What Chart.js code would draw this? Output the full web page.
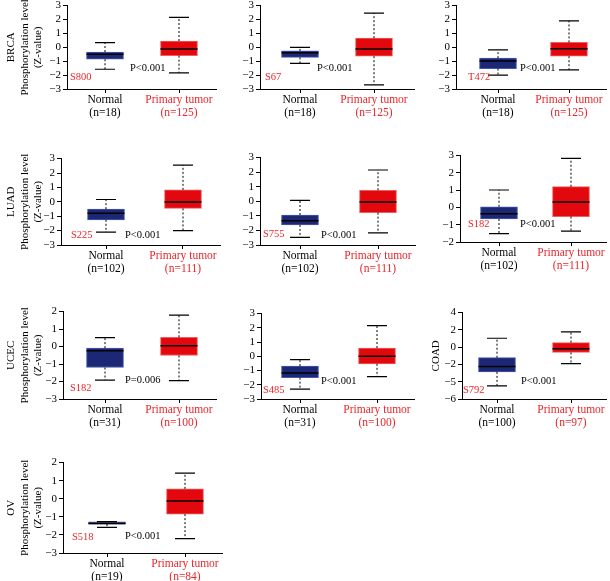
<!DOCTYPE html>
<html>
<head>
<meta charset="utf-8">
<script src="https://cdn.jsdelivr.net/npm/chart.js@4.4.1/dist/chart.umd.min.js"></script>
<style>
  html, body { margin: 0; padding: 0; background: #fff; }
  #wrap { position: relative; width: 610px; height: 581px; overflow: hidden; }
  #wrap canvas { position: absolute; }
</style>
</head>
<body>
<div id="wrap"></div>
<script>
// data
const groups = ["Normal", "Primary tumor"];
const cancers = ["BRCA", "BRCA", "BRCA", "LUAD", "LUAD", "LUAD", "UCEC", "UCEC", "COAD", "OV"];
const sites = ["S800", "S67", "T472", "S225", "S755", "S182", "S182", "S485", "S792", "S518"];
const pLabels = ["P<0.001", "P<0.001", "P<0.001", "P<0.001", "P<0.001", "P<0.001", "P=0.006", "P<0.001", "P<0.001", "P<0.001"];
const normalN = [18, 18, 18, 102, 102, 102, 31, 31, 100, 19];
const tumorN = [125, 125, 125, 111, 111, 111, 100, 100, 97, 84];

const normalMin = [-1.58, -1.16, -2.0, -2.1, -2.47, -1.51, -1.92, -2.31, -4.47, -1.58];
const normalQ1 = [-0.86, -0.73, -1.53, -1.25, -1.62, -0.67, -1.2, -1.5, -2.86, -1.4];
const normalMed = [-0.5, -0.4, -0.99, -0.79, -1.33, -0.36, -0.24, -1.18, -2.25, -1.37];
const normalQ3 = [-0.34, -0.26, -0.78, -0.51, -0.94, 0.04, -0.09, -0.69, -1.22, -1.27];
const normalMax = [0.34, 0.0, -0.19, 0.16, 0.07, 1.01, 0.51, -0.23, 1.03, -1.27];

const tumorMin = [-1.84, -2.7, -1.62, -2.0, -2.17, -1.37, -1.95, -1.43, -1.91, -2.2];
const tumorQ1 = [-0.6, -0.64, -0.64, -0.46, -0.78, -0.53, -0.51, -0.53, -0.61, -0.85];
const tumorMed = [-0.12, -0.12, -0.1, -0.02, -0.05, 0.31, 0.04, 0.0, -0.19, -0.13];
const tumorQ3 = [0.45, 0.66, 0.35, 0.83, 0.76, 1.2, 0.53, 0.58, 0.53, 0.55];
const tumorMax = [2.16, 2.46, 1.9, 2.55, 2.15, 2.84, 1.8, 2.15, 1.76, 1.42];

// y axes
const yMin = [-3, -3, -3, -3, -3, -2, -3, -3, -6, -3];
const yMax = [3, 3, 3, 3, 3, 3, 2, 3, 4, 2];
const yStep = [1, 1, 1, 1, 1, 1, 1, 1, 2, 1];
const ticksA = ["−3", "−2", "−1", "0", "1", "2", "3"];
const ticksB = ["−2", "−1", "0", "1", "2", "3"];
const ticksC = ["−3", "−2", "−1", "0", "1", "2"];
const ticksCoad = ["−6", "−5", "−2", "0", "2", "4"];
const yTickLabels = [ticksA, ticksA, ticksA, ticksA, ticksA, ticksB, ticksC, ticksA, ticksCoad, ticksC];

// layout in page pixels
const panels = [
  { left: 0,   L: 67,  R: 216, T: 5,   B: 89,  c1: 105, c2: 179, sx: 70,  sy: 77,  px: 130, py: 68 },
  { left: 200, L: 260, R: 414, T: 5,   B: 89,  c1: 300, c2: 374, sx: 265, sy: 77,  px: 317, py: 68 },
  { left: 400, L: 456, R: 606, T: 5,   B: 89,  c1: 498, c2: 569, sx: 468, sy: 77,  px: 520, py: 68 },
  { left: 0,   L: 61,  R: 220, T: 158, B: 245, c1: 106, c2: 183, sx: 71,  sy: 235, px: 125, py: 235 },
  { left: 200, L: 260, R: 415, T: 157, B: 245, c1: 300, c2: 378, sx: 263, sy: 234, px: 321, py: 235 },
  { left: 400, L: 460, R: 606, T: 155, B: 242, c1: 499, c2: 571, sx: 468, sy: 224, px: 520, py: 224 },
  { left: 0,   L: 63,  R: 216, T: 311, B: 399, c1: 105, c2: 179, sx: 70,  sy: 388, px: 125, py: 380 },
  { left: 200, L: 261, R: 414, T: 313, B: 399, c1: 300, c2: 377, sx: 263, sy: 390, px: 321, py: 381 },
  { left: 400, L: 462, R: 606, T: 312, B: 399, c1: 497, c2: 571, sx: 463, sy: 390, px: 521, py: 381 },
  { left: 0,   L: 63,  R: 222, T: 462, B: 553, c1: 107, c2: 185, sx: 72,  sy: 537, px: 125, py: 536 },
];

const navy = "#1c2876", navyEdge = "#4758a8";
const red = "#e3080e", redEdge = "#f25c5c";
const redText = "#e8262b";
const FONT = "Liberation Serif";

Chart.defaults.font.family = FONT;
Chart.defaults.font.size = 11;
Chart.defaults.color = "#000";

// whiskers, medians, and labels on top of the bars
const boxExtras = {
  id: "boxExtras",
  afterDatasetsDraw(chart) {
    const i = chart.options.plugins.boxExtras.panel;
    const p = panels[i];
    const xs = chart.scales.x, ys = chart.scales.y;
    const ctx = chart.ctx;
    const stats = [
      [normalMin[i], normalQ1[i], normalMed[i], normalQ3[i], normalMax[i]],
      [tumorMin[i], tumorQ1[i], tumorMed[i], tumorQ3[i], tumorMax[i]],
    ];
    ctx.save();
    ctx.strokeStyle = "#000";
    stats.forEach((s, g) => {
      const cx = xs.getPixelForValue(g);
      const yLo = ys.getPixelForValue(s[0]);
      const yQ1 = ys.getPixelForValue(s[1]);
      const yMed = ys.getPixelForValue(s[2]);
      const yQ3 = ys.getPixelForValue(s[3]);
      const yHi = ys.getPixelForValue(s[4]);

      // dotted whiskers
      ctx.lineWidth = 1;
      ctx.setLineDash([2, 2]);
      ctx.beginPath();
      ctx.moveTo(cx, yQ3);
      ctx.lineTo(cx, yHi);
      ctx.moveTo(cx, yQ1);
      ctx.lineTo(cx, yLo);
      ctx.stroke();

      // caps
      ctx.setLineDash([]);
      ctx.lineWidth = 1.2;
      ctx.beginPath();
      ctx.moveTo(cx - 10, yHi);
      ctx.lineTo(cx + 10, yHi);
      ctx.moveTo(cx - 10, yLo);
      ctx.lineTo(cx + 10, yLo);
      ctx.stroke();

      // median
      ctx.lineWidth = 1.5;
      ctx.beginPath();
      ctx.moveTo(cx - 18.5, yMed);
      ctx.lineTo(cx + 18.5, yMed);
      ctx.stroke();
    });

    ctx.font = "10.5px '" + FONT + "'";
    ctx.textBaseline = "middle";
    ctx.textAlign = "left";
    ctx.fillStyle = redText;
    ctx.fillText(sites[i], p.sx - p.left, p.sy - (p.T - 8));
    ctx.fillStyle = "#000";
    ctx.fillText(pLabels[i], p.px - p.left, p.py - (p.T - 8));
    ctx.restore();
  },
};

const wrap = document.getElementById("wrap");

panels.forEach((p, i) => {
  const padTop = 8;
  const padRight = p.left === 400 ? 4 : 10;
  const xAxisH = 34;
  const w = p.R - p.left + padRight;
  const h = padTop + (p.B - p.T) + xAxisH;

  const canvas = document.createElement("canvas");
  canvas.width = w;
  canvas.height = h;
  canvas.style.left = p.left + "px";
  canvas.style.top = (p.T - padTop) + "px";
  canvas.style.width = w + "px";
  canvas.style.height = h + "px";
  wrap.appendChild(canvas);

  const unit = p.c2 - p.c1;
  let titleText = [];
  let titlePad = 5;
  if (p.left === 0) titleText = [cancers[i], "Phosphorylation level", "(Z-value)"];
  if (cancers[i] === "COAD") { titleText = [cancers[i]]; titlePad = 30; }

  new Chart(canvas, {
    type: "bar",
    data: {
      datasets: [{
        data: [
          { x: 0, y: [normalQ1[i], normalQ3[i]] },
          { x: 1, y: [tumorQ1[i], tumorQ3[i]] },
        ],
        backgroundColor: [navy, red],
        borderColor: [navyEdge, redEdge],
        borderWidth: 1,
        borderSkipped: false,
        barThickness: 37,
      }],
    },
    options: {
      responsive: false,
      animation: false,
      layout: { padding: { top: padTop, right: padRight, bottom: 0, left: 0 } },
      plugins: {
        legend: { display: false },
        tooltip: { enabled: false },
        boxExtras: { panel: i },
      },
      scales: {
        x: {
          type: "linear",
          offset: false,
          min: -(p.c1 - p.L) / unit,
          max: 1 + (p.R - p.c2) / unit,
          afterBuildTicks: (scale) => { scale.ticks = [{ value: 0 }, { value: 1 }]; },
          afterFit: (scale) => { scale.height = xAxisH; },
          grid: { offset: false, drawOnChartArea: false, drawTicks: true, tickLength: 4, color: "#000" },
          border: { display: true, color: "#000", width: 1 },
          ticks: {
            padding: 0,
            maxRotation: 0,
            autoSkip: false,
            font: { size: 11.5, lineHeight: 1.15 },
            color: (c) => (c.index === 0 ? "#000" : redText),
            callback: (v, idx) => [groups[idx], "(n=" + (idx === 0 ? normalN[i] : tumorN[i]) + ")"],
          },
        },
        y: {
          min: yMin[i],
          max: yMax[i],
          afterFit: (scale) => { scale.width = p.L - p.left; },
          grid: { drawOnChartArea: false, drawTicks: true, tickLength: 4, color: "#000" },
          border: { display: true, color: "#000", width: 1 },
          ticks: {
            stepSize: yStep[i],
            autoSkip: false,
            padding: 2,
            font: { size: 11 },
            color: "#000",
            callback: (v, idx) => yTickLabels[i][idx],
          },
          title: {
            display: titleText.length > 0,
            text: titleText,
            font: { size: 11, lineHeight: 1.2 },
            color: "#000",
            padding: { top: titlePad, bottom: 0 },
          },
        },
      },
    },
    plugins: [boxExtras],
  });
});
</script>
</body>
</html>
